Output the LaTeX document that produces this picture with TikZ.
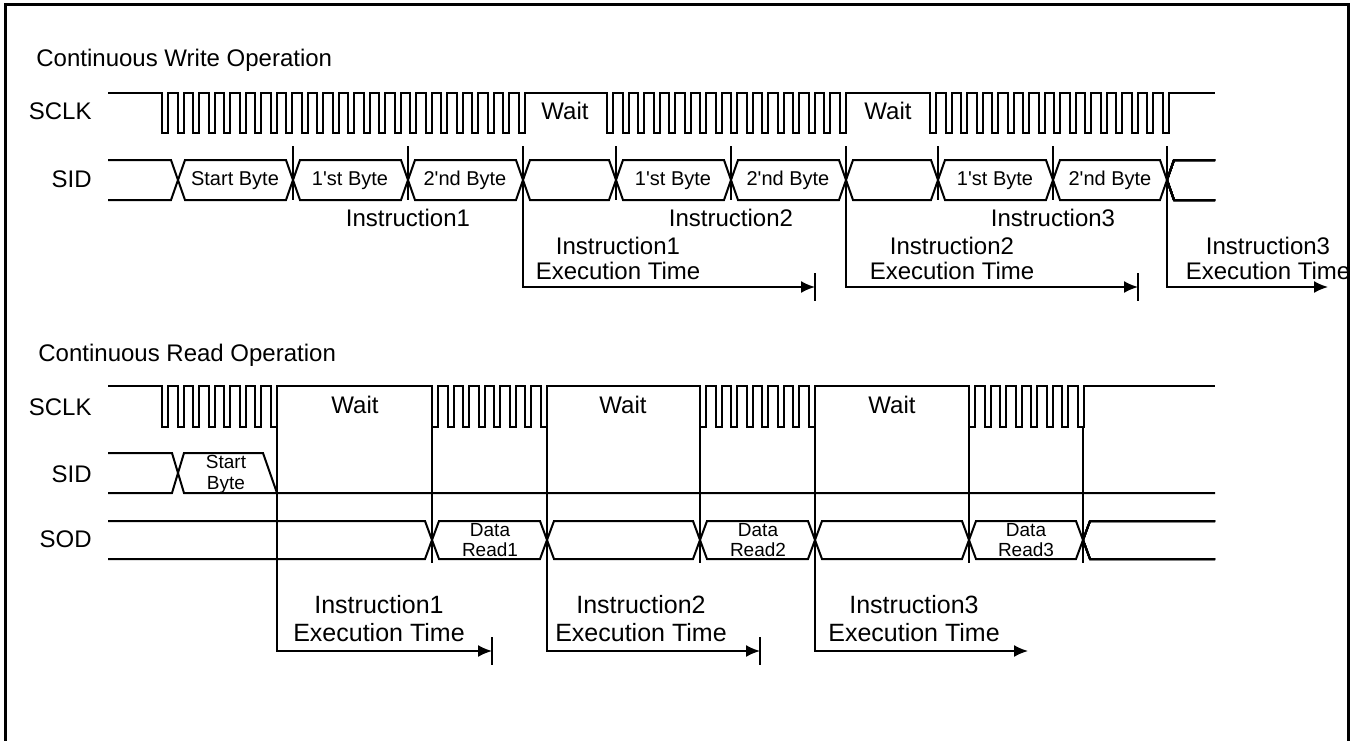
\documentclass[tikz,border=0pt]{standalone}
\usepackage{fontspec}
\setmainfont{Liberation Sans}
\usetikzlibrary{arrows.meta}
\newcommand{\pulses}[2]{\foreach \k in {1,...,#1}{ -- ++(0,#2) -- ++(6.2,0) -- ++(0,-#2) -- ++(9.3,0)}}
\newcommand{\busbox}[4]{%
	\draw[sig] (#1,{(#3+#4)/2}) -- ({#1+7},#3) -- ({#2-7},#3) -- (#2,{(#3+#4)/2}) -- ({#2-7},#4) -- ({#1+7},#4) -- cycle;
}
\newcommand{\sq}{\textquotesingle}
\tikzset{
	timing/.style={x=0.5pt, y=-0.5pt, line join=miter},
	frame/.style={line width=1.5pt},
	sig/.style={line width=1pt},
	tick/.style={line width=0.8pt},
	exec/.style={line width=0.9pt, -{Latex[length=7pt,width=6pt]}},
	title/.style={font=\fontsize{12}{12}\selectfont, inner sep=0pt, anchor=base west},
	signame/.style={font=\fontsize{12}{12}\selectfont, inner sep=0pt, anchor=base east},
	lbl/.style={font=\fontsize{12}{12}\selectfont, inner sep=0pt, anchor=base},
	execlbl/.style={font=\fontsize{12}{12.25}\selectfont, inner sep=0pt, align=center},
	byte/.style={font=\fontsize{10}{10}\selectfont, inner sep=0pt, anchor=base},
	small/.style={font=\fontsize{9.5}{10.25}\selectfont, inner sep=0pt, align=center}
}

\begin{document}
\begin{tikzpicture}[timing]
	\useasboundingbox (0,0) rectangle (1361,740);
	\draw[frame] (5,760) -- (5,4) -- (1348,4) -- (1348,760);

	\node[title] (wtitle) at (36,66.5) {Continuous Write Operation};
	\node[signame] (wsclk) at (92,119) {SCLK};
	\node[signame] (wsid) at (92,187) {SID};
	\draw[sig] (108,93) -- (162,93) \pulses{24}{40} -- (607,93) \pulses{16}{40} -- (930,93) \pulses{16}{40} -- (1215,93);
	\node[lbl] (wwait1) at (565,119.5) {Wait};
	\node[lbl] (wwait2) at (888,119.5) {Wait};
	\draw[sig] (108,160) -- (171,160) -- (178,180) -- (171,200) -- (108,200);
	\foreach \a/\b in {178/293,293/408,408/523,523/616,616/731,731/846,846/938,938/1053,1053/1167}
		\busbox{\a}{\b}{160}{200}
	\draw[sig] (1215,160) -- (1174,160) -- (1167,180) -- (1174,200) -- (1215,200);
	\node[byte] (wb0) at (235,185.5) {Start Byte};
	\node[byte] (wb1) at (350,185.5) {1\sq st Byte};
	\node[byte] (wb2) at (465,185.5) {2\sq nd Byte};
	\node[byte] (wb3) at (673,185.5) {1\sq st Byte};
	\node[byte] (wb4) at (788,185.5) {2\sq nd Byte};
	\node[byte] (wb5) at (995,185.5) {1\sq st Byte};
	\node[byte] (wb6) at (1110,185.5) {2\sq nd Byte};
	\foreach \x in {293,408,616,731,938,1053}
		\draw[tick] (\x,146) -- (\x,200);
	\node[lbl] (winst1) at (408,226.5) {Instruction1};
	\node[lbl] (winst2) at (731,226.5) {Instruction2};
	\node[lbl] (winst3) at (1053,226.5) {Instruction3};
	\coordinate (wex1) at (523,146);
	\coordinate (wet1) at (815,287);
	\coordinate (wex2) at (846,146);
	\coordinate (wet2) at (1138,287);
	\coordinate (wex3) at (1167,146);
	\coordinate (wet3) at (1328,287);
	\draw[exec] (wex1) |- (wet1);
	\draw[exec] (wex2) |- (wet2);
	\draw[exec] (wex3) |- (wet3);
	\draw[tick] (wet1) ++(0,-14) -- ++(0,28);
	\draw[tick] (wet2) ++(0,-14) -- ++(0,28);
	\node[execlbl] (wexl1) at (618,258.5) {Instruction1\\Execution Time};
	\node[execlbl] (wexl2) at (952,258.5) {Instruction2\\Execution Time};
	\node[execlbl] (wexl3) at (1268,258.5) {Instruction3\\Execution Time};

	\node[title] (rtitle) at (38,361.7) {Continuous Read Operation};
	\node[signame] (rsclk) at (92,415) {SCLK};
	\node[signame] (rsid) at (92,482) {SID};
	\node[signame] (rsod) at (92,547) {SOD};
	\draw[sig] (108,386) -- (162,386) \pulses{8}{41} -- (432,386) \pulses{8}{41} -- (700,386) \pulses{8}{41} -- (969,386) \pulses{8}{41} -- (1215,386);
	\node[lbl] (rwait1) at (355,413.5) {Wait};
	\node[lbl] (rwait2) at (623,413.5) {Wait};
	\node[lbl] (rwait3) at (892,413.5) {Wait};
	\draw[sig] (108,453) -- (172,453) -- (178,473) -- (172,493) -- (108,493);
	\draw[sig] (1215,493) -- (184,493) -- (178,473) -- (184,453) -- (263,453) -- (277,493);
	\node[small] (rsb) at (226,474.5) {Start\\Byte};
	\draw[sig] (108,521) -- (425,521) -- (432,540) -- (425,559) -- (108,559);
	\foreach \a/\b in {432/547,547/700,700/815,815/969,969/1083}
		\busbox{\a}{\b}{521}{559}
	\draw[sig] (1215,521) -- (1090,521) -- (1083,540) -- (1090,559) -- (1215,559);
	\node[small] (rd1) at (490,540) {Data\\Read1};
	\node[small] (rd2) at (758,540) {Data\\Read2};
	\node[small] (rd3) at (1026,540) {Data\\Read3};
	\foreach \x in {432,700,969,1083}
		\draw[tick] (\x,427) -- (\x,563);
	\coordinate (rex1) at (277,427);
	\coordinate (ret1) at (492,651);
	\coordinate (rex2) at (547,427);
	\coordinate (ret2) at (760,651);
	\coordinate (rex3) at (815,427);
	\coordinate (ret3) at (1028,651);
	\draw[exec] (rex1) |- (ret1);
	\draw[exec] (rex2) |- (ret2);
	\draw[exec] (rex3) |- (ret3);
	\draw[tick] (ret1) ++(0,-14) -- ++(0,28);
	\draw[tick] (ret2) ++(0,-14) -- ++(0,28);
	\node[execlbl, font=\fontsize{12.5}{14.25}\selectfont] (rexl1) at (379,618.6) {Instruction1\\Execution Time};
	\node[execlbl, font=\fontsize{12.5}{14.25}\selectfont] (rexl2) at (641,618.6) {Instruction2\\Execution Time};
	\node[execlbl, font=\fontsize{12.5}{14.25}\selectfont] (rexl3) at (914,618.6) {Instruction3\\Execution Time};
\end{tikzpicture}
\end{document}
